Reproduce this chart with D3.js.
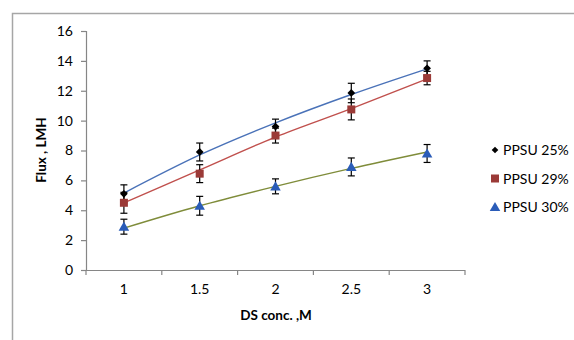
<!DOCTYPE html>
<html>
<head>
<meta charset="utf-8">
<script src="https://cdn.jsdelivr.net/npm/d3@7"></script>
<style>
  body { margin: 0; background: #fff; }
  text { font-family: Lato, "Open Sans", sans-serif; fill: #000; }
</style>
</head>
<body>
<script>
// categories on the x axis (DS concentration, M)
const categories = ["1", "1.5", "2", "2.5", "3"];
const yTicks = [0, 2, 4, 6, 8, 10, 12, 14, 16];

// measured flux and error bars
const seriesNames = ["PPSU 25%", "PPSU 29%", "PPSU 30%"];
const ppsu25 = [5.1, 7.9, 9.6, 11.85, 13.5];
const ppsu29 = [4.5, 6.45, 9.0, 10.75, 12.85];
const ppsu30 = [2.9, 4.3, 5.6, 6.9, 7.8];
const err25 = [0.6, 0.6, 0.5, 0.65, 0.5];
const err29 = [0.7, 0.6, 0.5, 0.7, 0.45];
const err30 = [0.5, 0.63, 0.5, 0.6, 0.6];

// trendline values
const trend25 = [5.15, 7.7, 9.85, 11.75, 13.47];
const trend29 = [4.5, 6.7, 8.9, 10.8, 12.8];
const trend30 = [2.8, 4.3, 5.6, 6.8, 7.9];

(function app() {
  const W = 574, H = 340;
  const margin = { top: 31, right: 109, bottom: 70, left: 86 };

  const svg = d3.select("body").append("svg")
    .attr("width", W).attr("height", H);

  // outer chart frame
  svg.append("rect")
    .attr("x", 12.5).attr("y", 13.5)
    .attr("width", W + 10).attr("height", H + 10)
    .attr("fill", "none").attr("stroke", "#a6a6a6").attr("stroke-width", 1.5);

  const iw = 465 - margin.left;
  const ih = 270 - margin.top;

  const x = d3.scaleBand().domain(categories).range([0, iw]);
  const y = d3.scaleLinear().domain([0, 16]).range([ih, 0]);
  const cx = c => x(c) + x.bandwidth() / 2;

  const g = svg.append("g").attr("transform", `translate(${margin.left},${margin.top})`);

  // y axis
  const yAxis = g.append("g").call(d3.axisLeft(y).tickValues(yTicks).tickSize(5).tickPadding(8));
  yAxis.select(".domain").attr("stroke", "#868686").attr("stroke-width", 1.2).attr("d", `M0.5,0V${ih}`);
  yAxis.selectAll(".tick line").attr("stroke", "#868686").attr("stroke-width", 1.2);
  yAxis.selectAll(".tick text").style("font-size", "14px").attr("fill", "#000");

  // x axis: ticks at category boundaries
  const xAxis = g.append("g").attr("transform", `translate(0,${ih})`)
    .call(d3.axisBottom(x).tickSize(0).tickPadding(14));
  xAxis.select(".domain").remove();
  xAxis.selectAll(".tick text").style("font-size", "14px").attr("fill", "#000");
  xAxis.append("line").attr("x1", 0).attr("x2", iw).attr("y1", 0.5).attr("y2", 0.5)
    .attr("stroke", "#868686").attr("stroke-width", 1.2);
  xAxis.selectAll("line.bound")
    .data(categories.map(c => x(c)).concat([iw]))
    .enter().append("line").attr("class", "bound")
    .attr("x1", d => d).attr("x2", d => d).attr("y1", 0).attr("y2", 5)
    .attr("stroke", "#868686").attr("stroke-width", 1.2);

  // axis titles
  svg.append("text")
    .attr("transform", "translate(46,150) rotate(-90)")
    .attr("text-anchor", "middle")
    .style("font-size", "13.5px").style("font-weight", "bold")
    .text("Flux , LMH");
  svg.append("text")
    .attr("x", 276).attr("y", 320)
    .attr("text-anchor", "middle")
    .style("font-size", "13.5px").style("font-weight", "bold")
    .text("DS conc. ,M");

  const series = [
    { name: seriesNames[0], vals: ppsu25, err: err25, trend: trend25, line: "#4a72b8", marker: "diamond", fill: "#000" },
    { name: seriesNames[1], vals: ppsu29, err: err29, trend: trend29, line: "#c0504d", marker: "square", fill: "#9b3a37" },
    { name: seriesNames[2], vals: ppsu30, err: err30, trend: trend30, line: "#7f8c3a", marker: "triangle", fill: "#2a5cb8" }
  ];

  const line = d3.line()
    .x((d, i) => cx(categories[i]))
    .y(d => y(d))
    .curve(d3.curveMonotoneX);

  // diamond drawn as a rotated square so it is as wide as tall
  const symbolOf = {
    diamond: d3.symbol().type(d3.symbolSquare).size(30),
    square: d3.symbol().type(d3.symbolSquare).size(64),
    triangle: d3.symbol().type(d3.symbolTriangle).size(48)
  };
  const markerTf = (m, px, py) =>
    m === "diamond" ? `translate(${px},${py}) rotate(45)`
      : m === "triangle" ? `translate(${px},${py + 1})`
      : `translate(${px},${py})`;

  // trendlines
  series.forEach(s => {
    g.append("path")
      .attr("fill", "none")
      .attr("stroke", s.line)
      .attr("stroke-width", 1.4)
      .attr("d", line(s.trend));
  });

  // error bars and markers
  series.forEach(s => {
    const grp = g.append("g");
    s.vals.forEach((v, i) => {
      const px = cx(categories[i]);
      const e = s.err[i];
      grp.append("line")
        .attr("x1", px).attr("x2", px)
        .attr("y1", y(v + e)).attr("y2", y(v - e))
        .attr("stroke", "#000").attr("stroke-width", 1.2);
      [v + e, v - e].forEach(t => {
        grp.append("line")
          .attr("x1", px - 3.5).attr("x2", px + 3.5)
          .attr("y1", y(t)).attr("y2", y(t))
          .attr("stroke", "#000").attr("stroke-width", 1.2);
      });
      grp.append("path")
        .attr("d", symbolOf[s.marker]())
        .attr("transform", markerTf(s.marker, px, y(v)))
        .attr("fill", s.fill);
    });
  });

  // legend
  const legend = svg.append("g").attr("transform", "translate(495,150)");
  series.forEach((s, i) => {
    const row = legend.append("g").attr("transform", `translate(0,${i * 28.5})`);
    row.append("path")
      .attr("d", s.marker === "diamond"
        ? d3.symbol().type(d3.symbolSquare).size(22)()
        : symbolOf[s.marker]())
      .attr("transform", markerTf(s.marker, 0, 0))
      .attr("fill", s.fill);
    row.append("text")
      .attr("x", 8).attr("y", 5)
      .style("font-size", "14px")
      .text(s.name);
  });
})();
</script>
</body>
</html>
